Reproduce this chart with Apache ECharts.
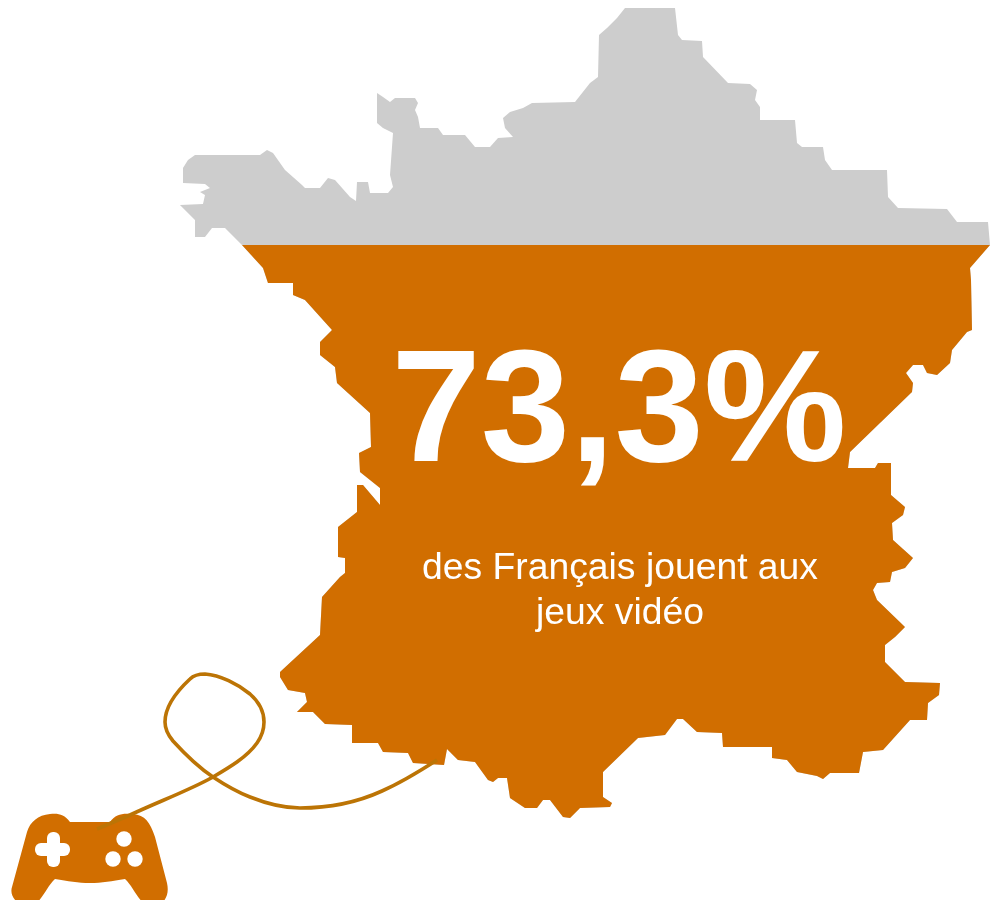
<!DOCTYPE html>
<html>
<head>
<meta charset="utf-8">
<script src="https://cdn.jsdelivr.net/npm/echarts@6/dist/echarts.min.js"></script>
<style>
  html, body { margin: 0; padding: 0; background: #fff; }
  #chart { width: 990px; height: 900px; }
</style>
</head>
<body>
<div id="chart"></div>
<script>
// share of French people playing video games
const categories = ['Français'];
const playerShare = [73.3];
const shareLabel = '73,3%';
const captionLines = ['des Français jouent aux', 'jeux vidéo'];

// the drawn outline is a bit taller than 100%, the fill stops where the original does
const axisMax = 103.62;
const fullShape = [axisMax];

const orange = '#D16E00';
const grey = '#CDCDCD';
const cableColor = '#BC7405';

// France
const francePath = 'path://M180 205L203 204L205 195L200 192L210 188L205 184L183 183L183 168L188 160L195 155L260 155L267 150L273 153' +
  'L285 170L302 185L305 188L320 188L328 178L335 180L350 197L356 201L357 182L368 182L370 193L388 193L393 187L390 175L393 133' +
  'L383 128L377 123L377 93L383 97L390 102L395 98L415 98L418 103L415 110L418 117L420 128L438 128L443 135L465 135L475 147L490 147' +
  'L498 138L513 137L505 128L503 118L510 112L523 108L532 103L575 102L590 83L598 77L599 35L607 28L617 18L625 8L675 8L678 35L682 40' +
  'L702 41L703 57L728 83L750 84L757 90L755 100L760 107L760 120L795 120L797 143L802 147L823 147L825 160L832 170L887 170L888 197' +
  'L898 208L947 209L957 222L988 222L990 245L970 268L971 280L972 330L967 332L952 350L950 363L937 375L927 373L923 365L913 365L906 373' +
  'L913 383L912 392L850 452L848 468L875 468L878 463L891 463L891 495L905 507L903 515L892 523L893 540L913 558L905 568L892 572L890 582' +
  'L877 583L873 590L877 600L905 627L895 637L885 645L885 662L905 682L940 683L939 695L928 703L927 720L910 720L883 750L863 752L859 773' +
  'L830 773L823 779L817 776L797 772L787 760L772 758L772 747L723 747L722 733L697 732L683 719L677 719L665 735L638 738L603 772L603 797' +
  'L612 803L610 807L580 808L570 818L563 817L550 800L543 800L537 808L525 808L510 798L507 778L498 778L493 782L488 780L475 762L458 760' +
  'L447 749L444 765L413 763L408 753L383 752L378 743L352 743L352 725L325 724L313 712L297 712L307 702L305 693L288 690L280 677L280 672' +
  'L320 635L322 597L340 577L345 573L345 558L338 557L338 527L357 512L357 485L363 485L380 505L380 488L360 472L359 453L371 447L370 413' +
  'L337 383L335 367L320 355L320 342L332 330L305 300L293 295L293 283L268 283L263 268L242 245L235 238L225 228L212 228L205 237L195 237L195 220Z';

const cablePath = 'M97 829L130 815C160 801 190 790 213 777C230 767 247 757 257 743C262 736 264 730 264 722' +
  'C264 710 258 701 250 694C238 684 220 675 205 674C198 674 194 675 190 679C176 692 165 708 165 722' +
  'C165 729 168 735 173 741C183 752 198 767 213 777C225 785 237 792 250 797' +
  'C265 803 282 808 300 808C330 808 358 802 382 791C400 783 420 771 437 760';

const padPath = 'M12 887L27 832C30 822 38 815 50 814C58 813 64 814 70 822L110 822C116 814 122 813 133 814' +
  'C145 815 150 822 155 837L167 883C169 892 167 900 160 904L145 904C138 900 132 885 125 879C112 881 102 883 90 883' +
  'C78 883 68 881 55 879C48 885 42 900 35 904L20 904C13 900 10 893 12 887Z';

const myChart = echarts.init(document.getElementById('chart'), null, { renderer: 'canvas' });

// manette + câble
const renderPad = () => ({
  type: 'group',
  children: [
    { type: 'path', shape: { pathData: padPath }, style: { fill: orange } },
    { type: 'rect', shape: { x: 35, y: 843, width: 35, height: 13, r: 6 }, style: { fill: '#fff' } },
    { type: 'rect', shape: { x: 47, y: 832, width: 13, height: 35, r: 6 }, style: { fill: '#fff' } },
    { type: 'circle', shape: { cx: 124, cy: 839, r: 7.7 }, style: { fill: '#fff' } },
    { type: 'circle', shape: { cx: 113, cy: 859, r: 7.7 }, style: { fill: '#fff' } },
    { type: 'circle', shape: { cx: 135, cy: 859, r: 7.7 }, style: { fill: '#fff' } },
    { type: 'path', shape: { pathData: cablePath }, style: { fill: 'none', stroke: cableColor, lineWidth: 3.6 } }
  ]
});

myChart.setOption({
  animation: false,
  backgroundColor: '#fff',
  grid: { left: 180, top: 8, width: 810, height: 810 },
  xAxis: { type: 'category', data: categories, show: false },
  yAxis: { type: 'value', min: 0, max: axisMax, show: false },
  tooltip: { show: false },
  series: [
    {
      type: 'pictorialBar',
      data: fullShape,
      symbol: francePath,
      symbolSize: ['100%', '100%'],
      symbolBoundingData: axisMax,
      symbolPosition: 'start',
      barWidth: 810,
      itemStyle: { color: grey },
      silent: true,
      z: 1
    },
    {
      type: 'pictorialBar',
      data: playerShare,
      symbol: francePath,
      symbolSize: ['100%', '100%'],
      symbolBoundingData: axisMax,
      symbolPosition: 'start',
      symbolClip: true,
      barWidth: 810,
      barGap: '-100%',
      itemStyle: { color: orange },
      silent: true,
      z: 2
    },
    {
      type: 'custom',
      coordinateSystem: 'none',
      data: [0],
      renderItem: renderPad,
      silent: true,
      z: 5
    }
  ],
  graphic: [
    {
      type: 'text',
      z: 10,
      style: {
        text: shareLabel,
        x: 619,
        y: 417,
        align: 'center',
        verticalAlign: 'middle',
        fill: '#fff',
        font: 'bold 160.5px "Liberation Sans", Arial, sans-serif'
      }
    },
    {
      type: 'text',
      z: 10,
      style: {
        text: captionLines[0],
        x: 620,
        y: 569,
        align: 'center',
        verticalAlign: 'middle',
        fill: '#fff',
        font: '37.3px "Liberation Sans", Arial, sans-serif'
      }
    },
    {
      type: 'text',
      z: 10,
      style: {
        text: captionLines[1],
        x: 620,
        y: 614,
        align: 'center',
        verticalAlign: 'middle',
        fill: '#fff',
        font: '37.3px "Liberation Sans", Arial, sans-serif'
      }
    }
  ]
});
</script>
</body>
</html>
